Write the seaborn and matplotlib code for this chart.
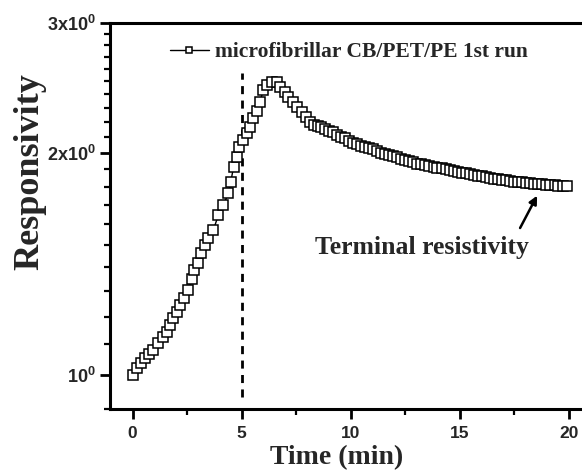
import numpy as np
import pandas as pd
import matplotlib
matplotlib.use("Agg")
import matplotlib.pyplot as plt
import seaborn as sns
from matplotlib.ticker import FixedLocator, FixedFormatter, NullFormatter
from matplotlib.font_manager import FontProperties

# ---------------- data ----------------
time_min = [
    0.00, 0.18, 0.38, 0.56, 0.76, 0.94, 1.17, 1.38, 1.56, 1.71, 1.86, 2.02,
    2.17, 2.37, 2.55, 2.71, 2.83, 2.98, 3.13, 3.32, 3.47, 3.70, 3.93, 4.16,
    4.39, 4.50, 4.63, 4.77, 4.88, 5.05, 5.23, 5.38, 5.53, 5.70, 5.84, 5.99,
    6.15, 6.38, 6.61, 6.76, 6.99, 7.14, 7.37, 7.52, 7.75, 7.95, 8.13, 8.30,
    8.48, 8.62, 8.80, 8.99, 9.17, 9.36, 9.54, 9.73, 9.91, 10.10, 10.28, 10.47,
    10.65, 10.84, 11.02, 11.21, 11.39, 11.58, 11.76, 11.95, 12.13, 12.32,
    12.50, 12.69, 12.87, 13.06, 13.24, 13.43, 13.61, 13.80, 13.98, 14.17,
    14.35, 14.54, 14.72, 14.91, 15.09, 15.28, 15.46, 15.65, 15.83, 16.02,
    16.20, 16.39, 16.57, 16.76, 16.94, 17.13, 17.31, 17.50, 17.68, 17.87,
    18.05, 18.24, 18.42, 18.61, 18.79, 18.98, 19.16, 19.35, 19.53, 19.72,
    19.90,
]
responsivity = [
    1.000, 1.021, 1.037, 1.053, 1.068, 1.081, 1.104, 1.125, 1.145, 1.169, 1.193, 1.218,
    1.244, 1.270, 1.304, 1.348, 1.388, 1.417, 1.462, 1.500, 1.532, 1.572, 1.647, 1.700,
    1.763, 1.827, 1.916, 1.976, 2.040, 2.082, 2.126, 2.170, 2.228, 2.280, 2.346, 2.433,
    2.472, 2.497, 2.497, 2.459, 2.421, 2.383, 2.346, 2.310, 2.275, 2.239, 2.204, 2.185,
    2.176, 2.168, 2.157, 2.143, 2.132, 2.118, 2.104, 2.094, 2.078, 2.065, 2.054, 2.046,
    2.040, 2.031, 2.022, 2.012, 2.002, 1.993, 1.989, 1.982, 1.972, 1.963,
    1.959, 1.953, 1.943, 1.934, 1.930, 1.925, 1.919, 1.915, 1.910, 1.905,
    1.900, 1.895, 1.891, 1.886, 1.881, 1.877, 1.872, 1.867, 1.862, 1.858,
    1.853, 1.848, 1.845, 1.842, 1.839, 1.835, 1.832, 1.829, 1.826, 1.824,
    1.821, 1.819, 1.817, 1.815, 1.813, 1.811, 1.809, 1.807, 1.805, 1.804,
    1.803,
]
series_label = "microfibrillar CB/PET/PE 1st run"
x_major_ticks = [0, 5, 10, 15, 20]
x_major_labels = ["0", "5", "10", "15", "20"]
x_minor_ticks = [2.5, 7.5, 12.5, 17.5]
y_major_ticks = [1, 2, 3]
y_major_labels = [r"$\mathbf{10^{0}}$", r"$\mathbf{2x10^{0}}$", r"$\mathbf{3x10^{0}}$"]
y_minor_ticks = [0.9, 1.1, 1.2, 1.3, 1.4, 1.5, 1.6, 1.7, 1.8, 1.9,
                 2.1, 2.2, 2.3, 2.4, 2.5, 2.6, 2.7, 2.8, 2.9]
x_label = "Time (min)"
y_label = "Responsivity"
annotation_text = "Terminal resistivity"
marker_time = 5

# ---------------- style ----------------
sns.set_style("ticks")
plt.rcParams["font.family"] = ["Liberation Sans", "DejaVu Sans"]
plt.rcParams["font.weight"] = "bold"
plt.rcParams["mathtext.fontset"] = "custom"
plt.rcParams["mathtext.rm"] = "Liberation Sans:bold"
plt.rcParams["mathtext.bf"] = "Liberation Sans:bold"
plt.rcParams["mathtext.it"] = "Liberation Sans:bold"

W, H = 582, 476
fig = plt.figure(figsize=(W / 100, H / 100), dpi=100)
fig.patch.set_facecolor("white")
ax = fig.add_axes([110 / W, 1 - 409 / H, (W - 110) / W, (409 - 23) / H])
ax.set_facecolor("white")

df = pd.DataFrame({"Time": time_min, "Responsivity": responsivity})
sns.lineplot(data=df, x="Time", y="Responsivity", ax=ax, color="black",
             linewidth=1.0, marker="s", markersize=7.2,
             markerfacecolor="white", markeredgecolor="black",
             markeredgewidth=1.1, label=series_label, estimator=None, sort=False)

ax.set_yscale("log")
ax.set_xlim(-1.04, 20.61)
ax.set_ylim(0.8992, 3.0)

# dashed vertical line at t = 5 min
ax.plot([marker_time, marker_time], [0.934, 2.565], color="black",
        linewidth=2.0, linestyle=(0, (2.9, 2.3)), zorder=1)

# ticks
ax.set_xticks(x_major_ticks, labels=x_major_labels, fontweight="bold",
              fontfamily="Liberation Sans", fontsize=12.5)
ax.xaxis.set_minor_locator(FixedLocator(x_minor_ticks))
ax.yaxis.set_major_locator(FixedLocator(y_major_ticks))
ax.yaxis.set_major_formatter(FixedFormatter(y_major_labels))
ax.yaxis.set_minor_locator(FixedLocator(y_minor_ticks))
ax.yaxis.set_minor_formatter(NullFormatter())

ax.tick_params(axis="x", which="major", direction="out", length=7,
               width=2.0, color="black", pad=5, top=False, right=False)
ax.tick_params(axis="y", which="major", direction="out", length=7,
               width=2.0, color="black", labelsize=13, pad=3,
               top=False, right=False)
ax.tick_params(axis="both", which="minor", direction="out", length=4,
               width=1.6, color="black", top=False, right=False)

for side in ["left", "bottom", "top"]:
    ax.spines[side].set_linewidth(2.2)
    ax.spines[side].set_color("black")
ax.spines["right"].set_visible(False)

# axis labels
ax.set_xlabel(x_label, fontsize=20, fontweight="bold",
              fontfamily="Liberation Serif", va="center", ha="center")
ax.xaxis.set_label_coords((337 - 110) / (W - 110), (409 - 458) / (409 - 23))
ax.set_ylabel(y_label, fontsize=26, fontweight="bold",
              fontfamily="Liberation Serif", va="center", ha="center")
ax.yaxis.set_label_coords((30 - 110) / (W - 110), (409 - 172) / (409 - 23))

# annotation
ax.text(13.27, 1.49, annotation_text, fontsize=18.5, fontweight="bold",
        fontfamily="Liberation Serif", ha="center", va="center")
ax.annotate("", xy=(18.55, 1.75), xytext=(17.77, 1.582),
            arrowprops=dict(arrowstyle="-|>", color="black", lw=1.8,
                            mutation_scale=12, shrinkA=0, shrinkB=0))

# legend
leg = ax.legend(loc="center left", bbox_to_anchor=(170 / W, 1 - 52 / H),
                bbox_transform=fig.transFigure, frameon=False,
                prop=FontProperties(family="Liberation Serif", weight="bold", size=15.5),
                markerscale=0.6, handlelength=1.8, handletextpad=0.3,
                borderpad=0, borderaxespad=0)

fig.savefig("out.png", dpi=100, facecolor="white")
